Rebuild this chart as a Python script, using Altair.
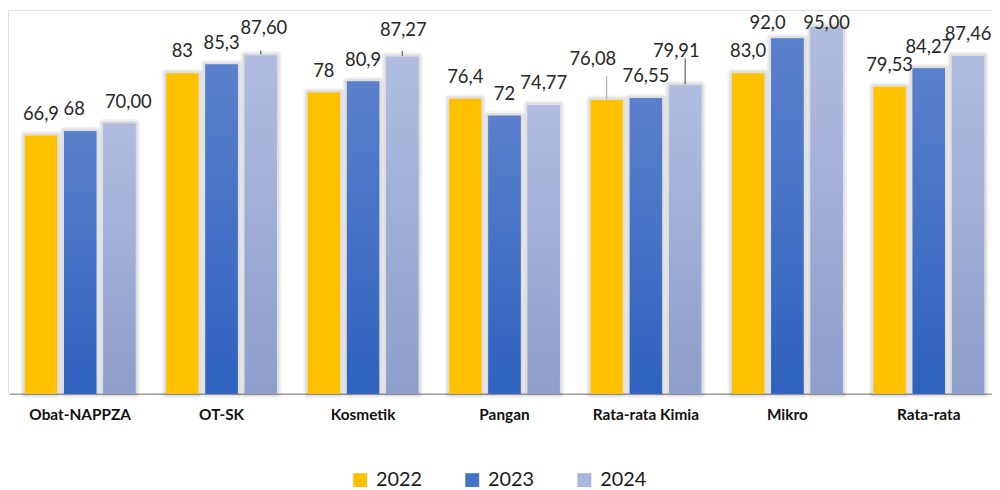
import altair as alt
import pandas as pd

categories = ["Obat-NAPPZA", "OT-SK", "Kosmetik", "Pangan", "Rata-rata Kimia", "Mikro", "Rata-rata"]
years = ["2022", "2023", "2024"]
values_2022 = [66.9, 83.0, 78.0, 76.4, 76.08, 83.0, 79.53]
values_2023 = [68.0, 85.3, 80.9, 72.0, 76.55, 92.0, 84.27]
values_2024 = [70.00, 87.60, 87.27, 74.77, 79.91, 95.00, 87.46]
labels_2022 = ["66,9", "83", "78", "76,4", "76,08", "83,0", "79,53"]
labels_2023 = ["68", "85,3", "80,9", "72", "76,55", "92,0", "84,27"]
labels_2024 = ["70,00", "87,60", "87,27", "74,77", "79,91", "95,00", "87,46"]

# label placement tweaks (pixel nudges dx, dy, leader-line length, leader colour)
label_layout = {
    ("Obat-NAPPZA", "2023"): (-6, 0, 0, None),
    ("Obat-NAPPZA", "2024"): (9, 0, 0, None),
    ("OT-SK", "2024"): (3, -6, 5, "#404040"),
    ("Kosmetik", "2024"): (1, -5, 6, "#404040"),
    ("Rata-rata Kimia", "2022"): (-14, -19, 24, "#A6A6A6"),
    ("Rata-rata Kimia", "2024"): (-9, -12, 27, "#404040"),
    ("Mikro", "2023"): (-20, 0, 0, None),
}

rows = []
for yr, vals, labs in zip(years, [values_2022, values_2023, values_2024],
                          [labels_2022, labels_2023, labels_2024]):
    for c, v, l in zip(categories, vals, labs):
        rows.append({"category": c, "year": yr, "value": v, "label": l,
                     "key": c + "|" + yr})
df = pd.DataFrame(rows)

PLOT_H = 387
Y_MAX = 99.4
px_per_unit = PLOT_H / Y_MAX

x_enc = alt.X("category:N", sort=categories,
              scale=alt.Scale(range=[1.45, 999.6], paddingInner=0, paddingOuter=0),
              axis=alt.Axis(title=None, labelAngle=0, ticks=False, labelPadding=14,
                            labelFontSize=15.5, labelFontWeight="bold", labelFont="Lato",
                            labelColor="#111111", domainColor="#A0A0A0", domainWidth=1.5))
xo_enc = alt.XOffset("year:N", sort=years,
                     scale=alt.Scale(paddingInner=0.177, paddingOuter=0.391))
y_scale = alt.Scale(domain=[0, Y_MAX], nice=False, zero=True)
y_enc = alt.Y("value:Q", scale=y_scale, axis=None)

base = alt.Chart(df).encode(x=x_enc, xOffset=xo_enc, y=y_enc)

shadow1 = base.mark_bar(fill="transparent", stroke="#000000", strokeWidth=9,
                        strokeOpacity=0.05, strokeJoin="round")
shadow2 = base.mark_bar(fill="transparent", stroke="#000000", strokeWidth=5,
                        strokeOpacity=0.08, strokeJoin="round")

bars = base.mark_bar().encode(
    color=alt.Color("year:N", sort=years,
                    scale=alt.Scale(domain=years, range=["#FFC000", "#4472C4", "#A9B7DE"]),
                    legend=alt.Legend(orient="none", legendX=345, legendY=464,
                                      direction="horizontal", title=None,
                                      symbolType="square", symbolSize=196,
                                      symbolStrokeWidth=0, labelFontSize=20,
                                      labelFont="Lato", labelOffset=6,
                                      columnPadding=40, labelColor="#1a1a1a",
                                      padding=0))
)

grad_2023 = alt.Gradient(gradient="linear", x1=0, x2=0, y1=0, y2=1,
                         stops=[alt.GradientStop(color="#5B80CC", offset=0),
                                alt.GradientStop(color="#2E62BE", offset=1)])
grad_2024 = alt.Gradient(gradient="linear", x1=0, x2=0, y1=0, y2=1,
                         stops=[alt.GradientStop(color="#B0BDE1", offset=0),
                                alt.GradientStop(color="#8E9ECB", offset=1)])

over_2023 = base.transform_filter(alt.datum.year == "2023").mark_bar(fill=grad_2023)
over_2024 = base.transform_filter(alt.datum.year == "2024").mark_bar(fill=grad_2024)

text_base = alt.Chart(df).transform_calculate(
    ly="min(datum.value, 90.4)"
).encode(
    x=x_enc, xOffset=xo_enc,
    y=alt.Y("ly:Q", scale=y_scale, axis=None),
    text="label:N",
)
text_style = dict(font="Lato", fontSize=18.5, color="#262626", baseline="middle")

special_keys = [c + "|" + y for (c, y) in label_layout]
text_main = text_base.transform_filter(
    ~alt.FieldOneOfPredicate(field="key", oneOf=special_keys)
).mark_text(dy=-22, **text_style)

layers = [shadow1, shadow2, bars, over_2023, over_2024, text_main]

for (c, y), (dx, dy, lead, lead_color) in label_layout.items():
    k = c + "|" + y
    layers.append(
        text_base.transform_filter(alt.datum.key == k).mark_text(dx=dx, dy=-22 + dy, **text_style)
    )
    if lead > 0:
        layers.append(
            alt.Chart(df).transform_filter(alt.datum.key == k).transform_calculate(
                top=f"datum.value + {lead} / {px_per_unit}",
                bot=f"datum.value + 1 / {px_per_unit}",
            ).mark_rule(color=lead_color, strokeWidth=1).encode(
                x=x_enc, xOffset=xo_enc,
                y=alt.Y("bot:Q", scale=y_scale, axis=None),
                y2="top:Q",
            )
        )

chart = alt.layer(*layers).properties(
    width=992, height=PLOT_H,
    autosize=alt.AutoSizeParams(type="none"),
    padding={"left": 0, "top": 0, "right": 0, "bottom": 95},
).configure_view(stroke="#DCDCDC", strokeWidth=1.5).configure(background="white")

chart.save("out.html", embed_options={"renderer": "svg", "actions": False})
